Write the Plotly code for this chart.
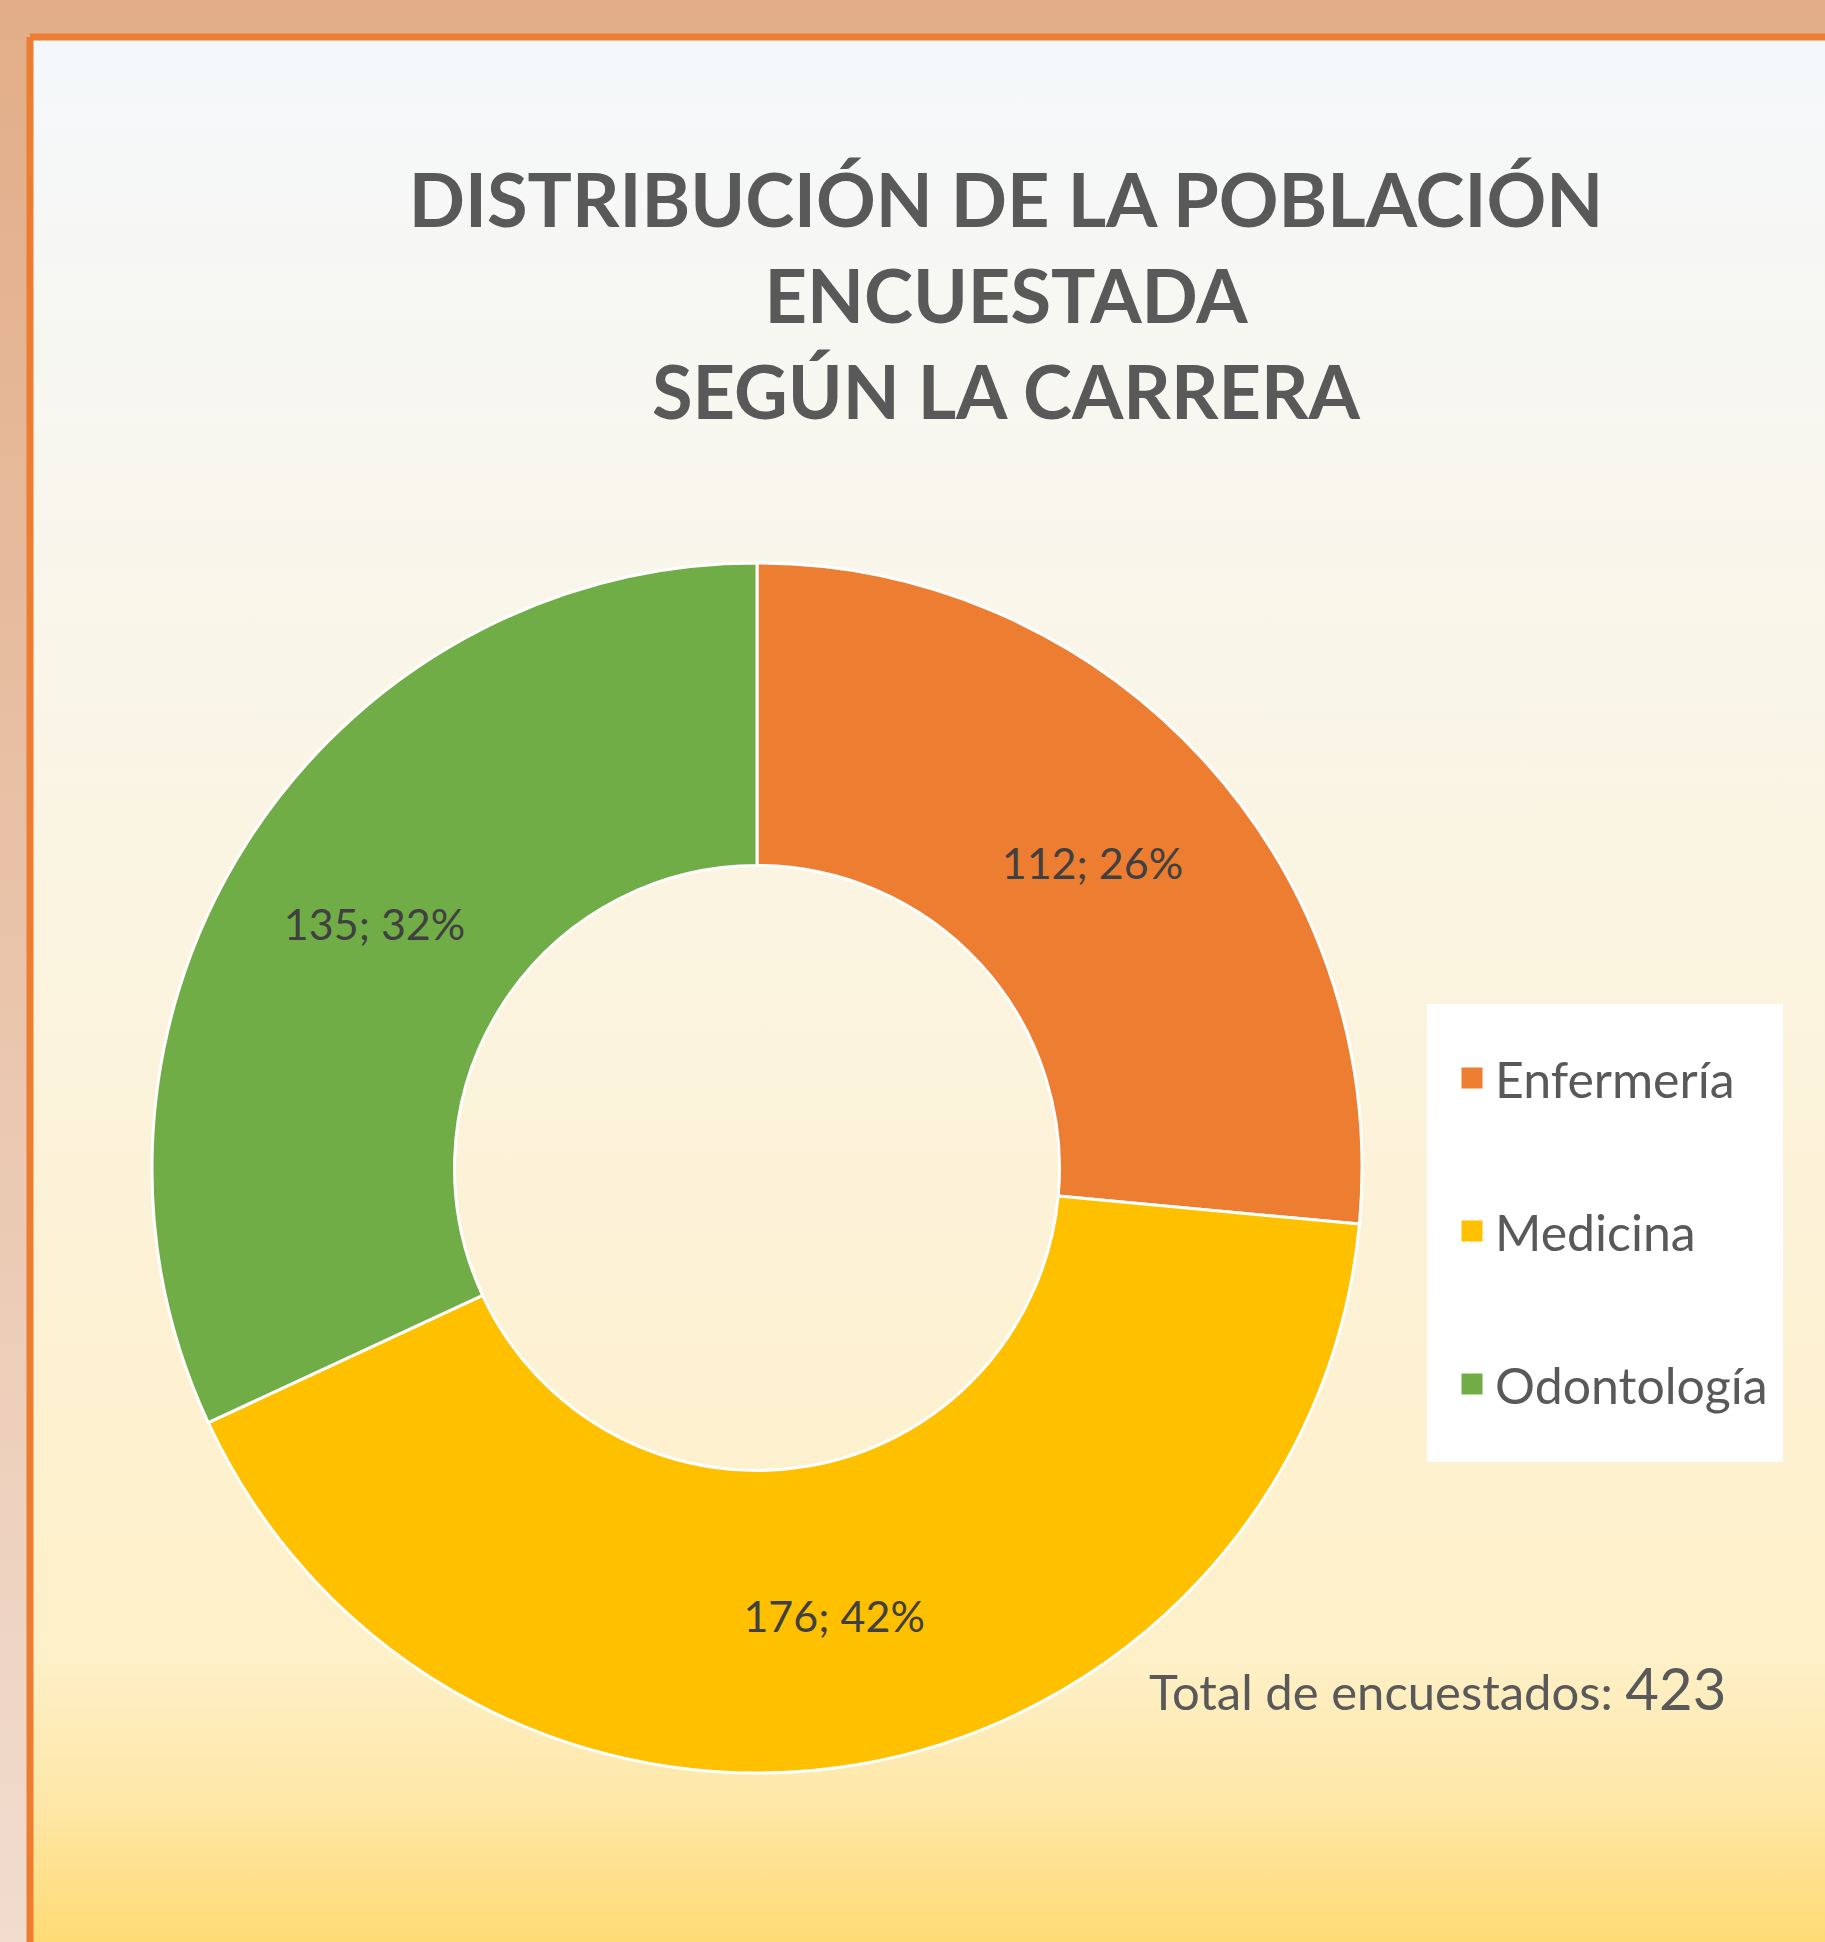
import plotly.graph_objects as go

# ---- data ----
categories = ["Enfermería", "Medicina", "Odontología"]
values = [112, 176, 135]
colors = ["#ED7D31", "#FFC000", "#70AD47"]
title_lines = ["DISTRIBUCIÓN DE LA POBLACIÓN", "ENCUESTADA", "SEGÚN LA CARRERA"]
total_label = "Total de encuestados:"
total_value = sum(values)

W, H = 1825, 1942
FONT = "Lato, 'Open Sans', sans-serif"
TXT = "#595959"

fig = go.Figure()

# outer background (gradient)
fig.add_trace(go.Scatter(
    x=[-10, W + 10, W + 10, -10, -10], y=[-10, -10, H + 10, H + 10, -10],
    mode="lines", line=dict(width=0), fill="toself",
    fillgradient=dict(type="vertical", start=0, stop=H,
                      colorscale=[[0, "#F1DCCE"], [1, "#E2AD88"]]),
    hoverinfo="skip", showlegend=False))

# inner panel with orange border (gradient fill)
top = H - 37
fig.add_trace(go.Scatter(
    x=[30, W + 60, W + 60, 30, 30], y=[top, top, -60, -60, top],
    mode="lines", line=dict(width=7, color="#ED7D31"), fill="toself",
    fillgradient=dict(type="vertical", start=0, stop=H - 40,
                      colorscale=[[0, "#FFDB76"], [0.07, "#FEE7A6"], [0.15, "#FEF0C8"],
                                  [0.4, "#FCF2D8"], [0.7, "#F9F6EA"], [1, "#F5F8FB"]]),
    hoverinfo="skip", showlegend=False))

# donut
fig.add_trace(go.Pie(
    labels=categories, values=values, hole=0.5, sort=False, direction="clockwise",
    rotation=0, marker=dict(colors=colors, line=dict(color="white", width=3)),
    textposition="inside", insidetextorientation="horizontal",
    texttemplate="%{value}; %{percent:.0%}",
    textfont=dict(family=FONT, size=43, color="#404040"),
    domain=dict(x=[(757 - 605) / W, (757 + 605) / W],
                y=[1 - (1168 + 605) / H, 1 - (1168 - 605) / H]),
    showlegend=False, hoverinfo="label+value+percent"))

# legend entries
for i, (c, col) in enumerate(zip(categories, colors)):
    fig.add_trace(go.Scatter(
        x=[None], y=[None], mode="markers", name=c, legendgroup=f"g{i}",
        marker=dict(symbol="square", size=16, color=col, line=dict(width=5, color=col))))

fig.update_layout(
    width=W, height=H,
    margin=dict(l=0, r=0, t=0, b=0),
    paper_bgcolor="#E2AD88", plot_bgcolor="rgba(0,0,0,0)",
    xaxis=dict(range=[0, W], visible=False, fixedrange=True, domain=[0, 1]),
    yaxis=dict(range=[0, H], visible=False, fixedrange=True, domain=[0, 1]),
    title=dict(text="<br>".join(f"<b>{t}</b>" for t in title_lines),
               x=1006 / W, xanchor="center", xref="container",
               y=1 - 227 / H, yanchor="middle", yref="container",
               font=dict(family=FONT, size=74, color=TXT)),
    legend=dict(x=1449 / W, xanchor="left", y=1 - 1039 / H, yanchor="top",
                bgcolor="rgba(0,0,0,0)", tracegroupgap=85, itemwidth=36,
                font=dict(family=FONT, size=50, color=TXT)),
    shapes=[dict(type="rect", xref="paper", yref="paper",
                 x0=1427 / W, x1=1783 / W, y0=1 - 1462 / H, y1=1 - 1004 / H,
                 fillcolor="white", line=dict(width=0), layer="above")],
    annotations=[dict(text=f"{total_label} <span style='font-size:58px'>{total_value}</span>",
                      x=1147 / W, xanchor="left", y=1 - 1687 / H, yanchor="middle",
                      xref="paper", yref="paper", showarrow=False,
                      font=dict(family=FONT, size=49, color=TXT))],
)

fig.write_html("out.html", config={"displayModeBar": False},
               post_script="document.body.style.margin='0';document.body.style.overflow='hidden';")
